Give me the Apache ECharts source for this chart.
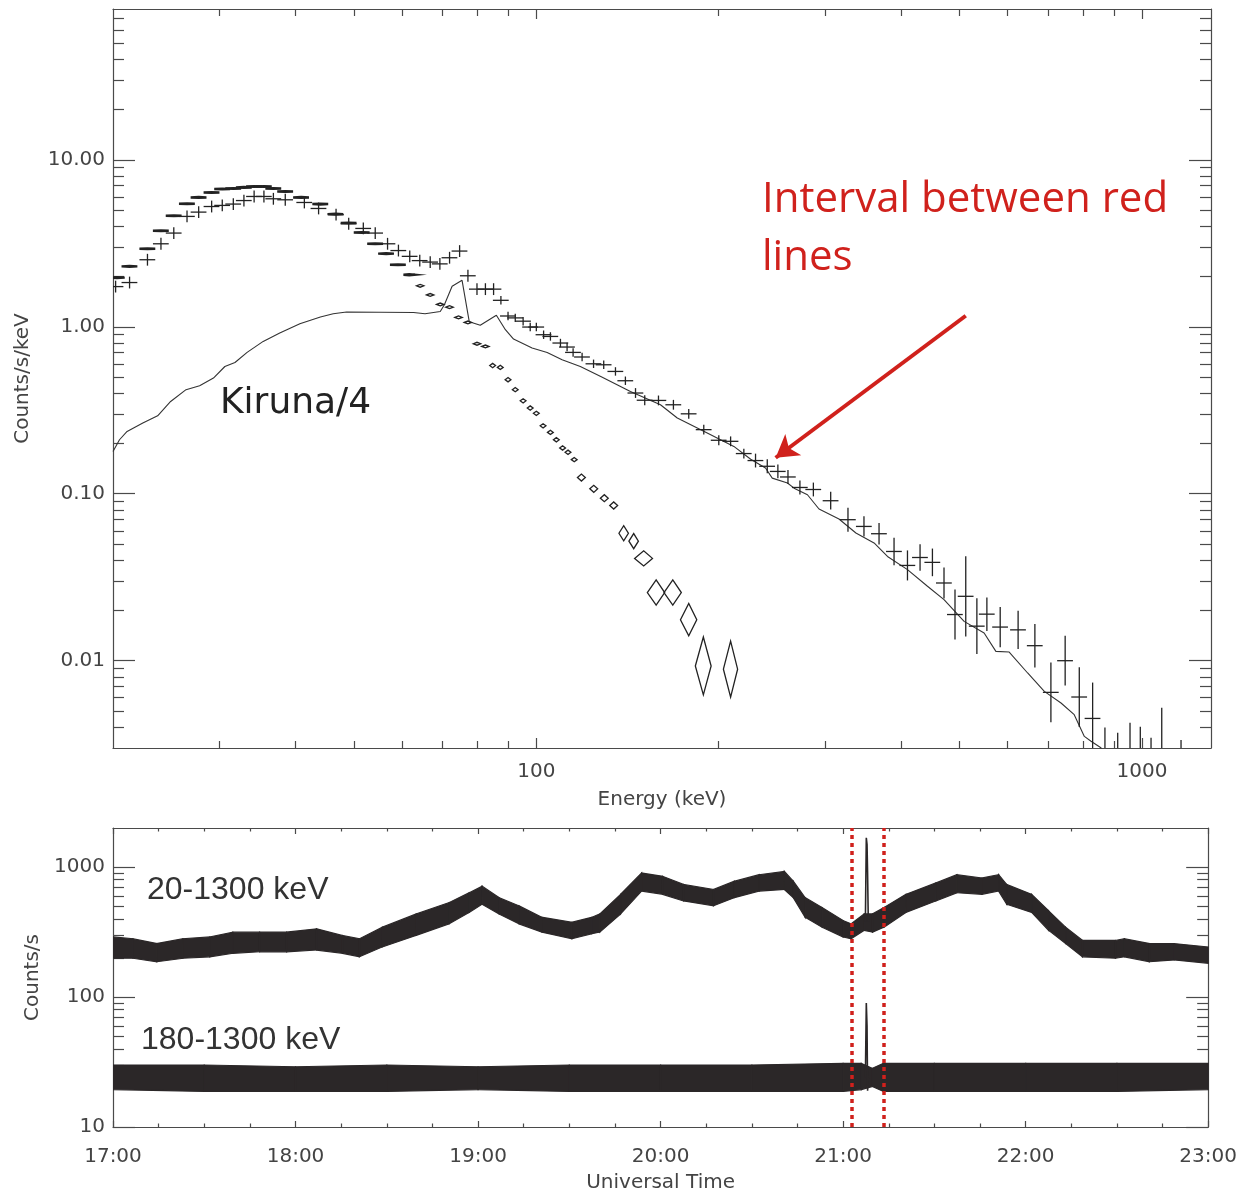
<!DOCTYPE html>
<html>
<head>
<meta charset="utf-8">
<title>Spectrum and count rate</title>
<script src="https://cdn.jsdelivr.net/npm/echarts@6/dist/echarts.min.js"></script>
<style>
  html, body { margin: 0; padding: 0; background: #fff; }
  #main { width: 1240px; height: 1194px; }
</style>
</head>
<body>
<div id="main"></div>
<script>
//************** Data: energy spectrum (top panel) *****************/

// crosses with error bars (energy keV, counts/s/keV, fractional error)
var crossE = [20.2, 21.3, 22.8, 24.0, 25.2, 26.5, 27.7, 29.1, 30.3, 31.6, 32.9, 34.2, 35.5, 36.8, 38.5, 41.4, 43.7, 46.7, 49.0, 51.8,
  54.2, 56.8, 59.2, 61.8, 64.2, 66.8, 69.3, 71.9, 74.7, 77.1, 79.8, 82.4, 85.0, 87.4, 89.8, 92.3, 95.1, 97.7, 100, 102.8,
  105.5, 109.6, 112.4, 115.0, 119.0, 124.3, 129.2, 135.1, 140.3, 145.8, 151.0, 159.1, 168.4, 178.5, 189.0, 200.1, 209.3, 220.1, 230.1, 240.6,
  250.5, 260.3, 272.4, 286.7, 306.2, 327.0, 347.5, 368.0, 389.6, 410.0, 430.1, 450.8, 471.1, 491.2, 511.7, 533.8, 554.5, 583.3, 624.4, 665.5,
  707.3, 746.7, 787.9, 828.9, 868.6, 911.8, 955.5, 993.6, 1035, 1078, 1160];
var crossV = [1.74, 1.84, 2.52, 3.14, 3.64, 4.58, 4.86, 5.25, 5.33, 5.43, 5.70, 6.03, 6.03, 5.84, 5.76, 5.55, 5.11, 4.69, 4.14, 3.88,
  3.64, 3.14, 2.86, 2.64, 2.49, 2.44, 2.38, 2.59, 2.84, 2.02, 1.68, 1.68, 1.68, 1.44, 1.16, 1.13, 1.08, 0.996, 0.996, 0.896,
  0.875, 0.799, 0.756, 0.702, 0.659, 0.600, 0.592, 0.540, 0.475, 0.401, 0.363, 0.362, 0.341, 0.301, 0.242, 0.209, 0.206, 0.174, 0.158, 0.146,
  0.136, 0.126, 0.109, 0.106, 0.0908, 0.0699, 0.0637, 0.0576, 0.0451, 0.0372, 0.0415, 0.0388, 0.0292, 0.0189, 0.0243, 0.0161, 0.0190, 0.0159, 0.0153, 0.0123,
  0.00646, 0.0100, 0.00606, 0.00451, 0.0025, 0.0025, 0.0025, 0.0025, 0.0025, 0.0025, 0.0025];
var crossErr = [0.085, 0.085, 0.085, 0.085, 0.085, 0.085, 0.085, 0.085, 0.085, 0.085, 0.085, 0.085, 0.085, 0.085, 0.085, 0.085, 0.085, 0.085, 0.085, 0.085,
  0.085, 0.085, 0.085, 0.085, 0.085, 0.085, 0.085, 0.085, 0.085, 0.085, 0.085, 0.085, 0.085, 0.06, 0.06, 0.06, 0.06, 0.06, 0.06, 0.06,
  0.06, 0.06, 0.06, 0.06, 0.06, 0.06, 0.06, 0.06, 0.06, 0.07, 0.07, 0.07, 0.07, 0.07, 0.07, 0.07, 0.07, 0.07, 0.1, 0.1,
  0.1, 0.1, 0.1, 0.1, 0.13, 0.18, 0.15, 0.16, 0.21, 0.23, 0.2, 0.21, 0.24, 0.41, 0.74, 0.47, 0.26, 0.32, 0.30, 0.35,
  0.51, 0.41, 0.51, 0.64, 0.59, 0.48, 0.70, 0.61, 0.38, 1.09, 0.34];
var crossBinFrac = 0.03;

// diamonds (energy, value, half width in energy, half height in value, both fractional)
var diaE = [20.3, 21.3, 22.8, 24.0, 25.2, 26.5, 27.7, 29.1, 30.3, 31.6, 32.9, 34.2, 35.5, 36.8, 38.5, 40.9, 44.0, 46.6, 49.0, 51.5,
  54.2, 56.5, 59.1, 61.7, 64.3, 66.8, 69.4, 71.9, 74.4, 77.1, 79.8, 82.4, 84.7, 87.2, 89.8, 92.3, 95.1, 97.7, 100, 102.6,
  105.5, 107.9, 110.5, 112.8, 115.5, 118.7, 124.4, 129.5, 134.2, 139.4, 144.8, 150.4, 157.7, 168.0, 178.5, 188.7, 209.3];
var diaV = [1.97, 2.30, 2.93, 3.76, 4.62, 5.45, 5.95, 6.37, 6.68, 6.73, 6.83, 6.92, 6.92, 6.73, 6.46, 5.95, 5.43, 4.73, 4.18, 3.67,
  3.14, 2.74, 2.35, 2.05, 1.76, 1.55, 1.36, 1.31, 1.137, 1.061, 0.791, 0.762, 0.586, 0.571, 0.482, 0.42, 0.36, 0.326, 0.303, 0.255,
  0.233, 0.2105, 0.188, 0.177, 0.160, 0.125, 0.107, 0.094, 0.085, 0.058, 0.052, 0.041, 0.0256, 0.0256, 0.0176, 0.0093, 0.0089];
var diaDE = [0.03, 0.03, 0.03, 0.03, 0.03, 0.03, 0.03, 0.03, 0.03, 0.03, 0.03, 0.03, 0.03, 0.03, 0.03, 0.03, 0.03, 0.03, 0.03, 0.03,
  0.03, 0.03, 0.03, 0.022, 0.014, 0.014, 0.014, 0.014, 0.014, 0.014, 0.014, 0.014, 0.011, 0.011, 0.011, 0.011, 0.011, 0.011, 0.011, 0.011,
  0.011, 0.011, 0.011, 0.011, 0.011, 0.015, 0.015, 0.015, 0.015, 0.018, 0.018, 0.034, 0.033, 0.033, 0.031, 0.03, 0.027];
var diaDV = [0.005, 0.005, 0.005, 0.005, 0.005, 0.005, 0.005, 0.005, 0.005, 0.005, 0.005, 0.005, 0.005, 0.005, 0.005, 0.005, 0.005, 0.005, 0.005, 0.005,
  0.005, 0.005, 0.005, 0.008, 0.02, 0.02, 0.02, 0.02, 0.02, 0.02, 0.02, 0.02, 0.03, 0.03, 0.03, 0.03, 0.03, 0.03, 0.03, 0.03,
  0.03, 0.03, 0.03, 0.03, 0.03, 0.05, 0.05, 0.05, 0.05, 0.11, 0.11, 0.11, 0.19, 0.19, 0.25, 0.49, 0.47];

// Kiruna/4 line
var kirE = [20.0, 20.5, 21.1, 22.4, 23.7, 24.9, 26.4, 27.8, 29.3, 30.6, 31.8, 33.3, 35.4, 37.7, 40.7, 44.0, 46.2, 48.6, 62.7, 65.5,
  69.4, 70.5, 72.6, 75.4, 77.5, 80.8, 85.9, 88.9, 91.7, 98.4, 104.2, 110.3, 118.2, 128.0, 143.0, 160.3, 170.9, 191.5, 211.9, 225.9,
  239.0, 245.2, 259.8, 266.4, 280.3, 292.9, 316.0, 337.0, 361.1, 380.0, 410.0, 442.4, 471.1, 508.5, 548.7, 573.8, 603.6, 647.4, 689.8, 735.0,
  772.9, 803.2, 823.9, 855.4, 880];
var kirV = [0.179, 0.2105, 0.236, 0.265, 0.293, 0.357, 0.42, 0.443, 0.493, 0.578, 0.611, 0.702, 0.817, 0.917, 1.042, 1.143, 1.196, 1.225, 1.218, 1.196,
  1.235, 1.354, 1.748, 1.898, 1.071, 1.021, 1.172, 0.960, 0.844, 0.746, 0.702, 0.634, 0.578, 0.502, 0.410, 0.341, 0.284, 0.231, 0.192, 0.161,
  0.1425, 0.124, 0.116, 0.108, 0.0986, 0.081, 0.0706, 0.0582, 0.0507, 0.0421, 0.0351, 0.0279, 0.0232, 0.0172, 0.01465, 0.01137, 0.01127, 0.00844, 0.00655, 0.00558,
  0.00475, 0.00352, 0.00329, 0.00301, 0.0026];

// arrow end points (energy, value)
var arrowFrom = [511.7, 1.164];
var arrowTo = [248.4, 0.1642];

// axis ticks
var energyMajor = [100, 1000];
var energyMinor = [30, 40, 50, 60, 70, 80, 90, 200, 300, 400, 500, 600, 700, 800, 900];
var specMajor = [0.01, 0.1, 1, 10];
var specMinor = [0.004, 0.005, 0.006, 0.007, 0.008, 0.009, 0.02, 0.03, 0.04, 0.05, 0.06, 0.07, 0.08, 0.09,
  0.2, 0.3, 0.4, 0.5, 0.6, 0.7, 0.8, 0.9, 2, 3, 4, 5, 6, 7, 8, 9, 20, 30, 40, 50, 60, 70];

//************** Data: count rate (bottom panel) *****************/

// 20-1300 keV noisy band, lower / upper envelope
var utHours = [17.0, 17.109, 17.24, 17.383, 17.53, 17.656, 17.803, 17.951, 18.115, 18.257, 18.35, 18.475, 18.661, 18.842, 18.951, 19.022, 19.115, 19.224,
  19.35, 19.514, 19.623, 19.667, 19.781, 19.896, 20.011, 20.126, 20.29, 20.404, 20.541, 20.678, 20.727, 20.792, 20.885, 21.0, 21.044, 21.115,
  21.161, 21.224, 21.344, 21.508, 21.623, 21.76, 21.852, 21.896, 22.033, 22.126, 22.219, 22.311, 22.492, 22.541, 22.678, 22.814, 23.0];
var rateLo = [199, 199, 187, 199, 204, 217, 223, 223, 230, 217, 204, 243, 298, 366, 448, 518, 436, 366,
  316, 281, 307, 316, 436, 654, 617, 549, 504, 582, 654, 673, 582, 411, 345, 290, 281, 326,
  316, 345, 448, 549, 635, 617, 654, 518, 448, 326, 258, 204, 199, 204, 187, 193, 182];
var rateHi = [290, 281, 258, 281, 290, 316, 316, 316, 335, 298, 281, 345, 436, 534, 635, 714, 582, 504,
  411, 377, 411, 436, 617, 900, 850, 735, 673, 779, 875, 927, 779, 582, 489, 388, 366, 436,
  436, 489, 617, 756, 875, 826, 875, 735, 617, 461, 345, 273, 273, 281, 258, 258, 243];

// 180-1300 keV band
var hardHours = [17.0, 17.5, 18.0, 18.5, 19.0, 19.5, 20.0, 20.5, 21.0, 21.1, 21.16, 21.22, 21.5, 22.0, 22.5, 23.0];
var hardLo = [19.4, 18.8, 18.8, 18.8, 19.4, 18.8, 18.8, 18.8, 18.8, 19.4, 20.5, 18.8, 18.8, 18.8, 18.8, 19.4];
var hardHi = [30.0, 30.0, 29.1, 30.0, 29.1, 30.0, 30.0, 30.0, 30.9, 30.9, 28.3, 30.9, 30.9, 30.9, 30.9, 30.9];

// spike near 21:08
var spikeHours = [21.122, 21.127, 21.131, 21.134, 21.138];
var spikeSoft = [380, 1680, 1500, 900, 380];
var spikeHard = [24, 90, 60, 19, 24];

// red interval lines
var redLineTimes = [21.05, 21.222];

var timeMinor = 4;
var countMajor = [10, 100, 1000];
var countMinor = [20, 30, 40, 50, 60, 70, 80, 90, 200, 300, 400, 500, 600, 700, 800, 900];

///*********** Chart ***************///

var AXIS = '#4a4a4a';
var INK = '#222222';
var BAND = '#2b2728';
var RED = '#d0211c';
var labelFont = { fontFamily: 'DejaVu Sans', fontSize: 20, color: '#444' };

function logPair(grid, pos, min, max, major, minor, majLen, minLen, label) {
  var a = {
    type: 'log', gridIndex: grid, position: pos, min: min, max: max,
    splitLine: { show: false },
    axisLine: { show: true, onZero: false, lineStyle: { color: AXIS, width: 1.2 } },
    axisTick: { show: true, inside: true, length: majLen, customValues: major, lineStyle: { color: AXIS, width: 1.2 } },
    axisLabel: label ? Object.assign({ show: true, customValues: major }, label) : { show: false }
  };
  var b = {
    type: 'log', gridIndex: grid, position: pos, min: min, max: max,
    splitLine: { show: false },
    axisLine: { show: false },
    axisTick: { show: true, inside: true, length: minLen, customValues: minor, lineStyle: { color: AXIS, width: 1.2 } },
    axisLabel: { show: false }
  };
  return [a, b];
}

function timeAxis(pos, label) {
  return {
    type: 'value', gridIndex: 1, position: pos, min: 17, max: 23, interval: 1,
    splitLine: { show: false },
    axisLine: { show: true, onZero: false, lineStyle: { color: AXIS, width: 1.2 } },
    axisTick: { show: true, inside: true, length: 6, lineStyle: { color: AXIS, width: 1.2 } },
    minorTick: { show: true, splitNumber: timeMinor, length: 3.5, lineStyle: { color: AXIS, width: 1.2 } },
    axisLabel: label ? label : { show: false }
  };
}

var xTopBottom = logPair(0, 'bottom', 20, 1300, energyMajor, energyMinor, 10, 7,
  Object.assign({ margin: 14, formatter: function (v) { return String(Math.round(v)); } }, labelFont));
xTopBottom[0].name = 'Energy (keV)';
xTopBottom[0].nameLocation = 'middle';
xTopBottom[0].nameGap = 42;
xTopBottom[0].nameTextStyle = Object.assign({}, labelFont);
var xTopTop = logPair(0, 'top', 20, 1300, energyMajor, energyMinor, 10, 7, null);

var yTopLeft = logPair(0, 'left', 0.003, 80, specMajor, specMinor, 22, 11,
  Object.assign({ margin: 8, formatter: function (v) { return Number(v).toFixed(2); } }, labelFont));
yTopLeft[0].name = 'Counts/s/keV';
yTopLeft[0].nameLocation = 'middle';
yTopLeft[0].nameGap = 80;
yTopLeft[0].nameTextStyle = Object.assign({}, labelFont);
var yTopRight = logPair(0, 'right', 0.003, 80, specMajor, specMinor, 22, 11, null);

var xBottom = timeAxis('bottom', Object.assign({ margin: 20, formatter: function (v) { return Math.round(v) + ':00'; } }, labelFont));
xBottom.name = 'Universal Time';
xBottom.nameLocation = 'middle';
xBottom.nameGap = 46;
xBottom.nameTextStyle = Object.assign({}, labelFont);
var xBottomTop = timeAxis('top', null);

var yBotLeft = logPair(1, 'left', 10, 2000, countMajor, countMinor, 22, 11,
  Object.assign({ margin: 8, formatter: function (v) { return String(Math.round(v)); } }, labelFont));
yBotLeft[0].name = 'Counts/s';
yBotLeft[0].nameLocation = 'middle';
yBotLeft[0].nameGap = 69;
yBotLeft[0].nameTextStyle = Object.assign({}, labelFont);
var yBotRight = logPair(1, 'right', 10, 2000, countMajor, countMinor, 22, 11, null);

function clipRect(params) {
  var cs = params.coordSys;
  return { type: 'rect', shape: { x: cs.x, y: cs.y, width: cs.width, height: cs.height } };
}

function renderCross(params, api) {
  var e = api.value(0), v = api.value(1), err = api.value(2);
  var l = api.coord([e * (1 - crossBinFrac), v]);
  var r = api.coord([e * (1 + crossBinFrac), v]);
  var t = api.coord([e, v * (1 + err)]);
  var b = api.coord([e, v / (1 + err)]);
  var st = { stroke: INK, lineWidth: 1.3 };
  return {
    type: 'group',
    clipPath: clipRect(params),
    children: [
      { type: 'line', shape: { x1: l[0], y1: l[1], x2: r[0], y2: r[1] }, style: st },
      { type: 'line', shape: { x1: t[0], y1: t[1], x2: b[0], y2: b[1] }, style: st }
    ]
  };
}

function renderDiamond(params, api) {
  var e = api.value(0), v = api.value(1), de = api.value(2), dv = api.value(3);
  var pts = [
    api.coord([e * (1 - de), v]),
    api.coord([e, v * (1 + dv)]),
    api.coord([e * (1 + de), v]),
    api.coord([e, v / (1 + dv)])
  ];
  // flat diamonds at low energy read as solid dashes
  var flat = dv < 0.01;
  return {
    type: 'polygon',
    shape: { points: pts },
    style: { fill: flat ? INK : 'none', stroke: INK, lineWidth: flat ? 2.4 : 1.3, lineJoin: 'miter' }
  };
}

// one quad between two neighbouring envelope samples
function renderBand(params, api) {
  var p = [
    api.coord([api.value(0), api.value(1)]),
    api.coord([api.value(3), api.value(4)]),
    api.coord([api.value(3), api.value(5)]),
    api.coord([api.value(0), api.value(2)])
  ];
  return {
    type: 'polygon',
    shape: { points: p },
    style: { fill: BAND, stroke: BAND, lineWidth: 1.2 }
  };
}

function bandSegments(hours, lo, hi) {
  var out = [];
  for (var i = 0; i < hours.length - 1; i++) {
    out.push([hours[i], lo[i], hi[i], hours[i + 1], lo[i + 1], hi[i + 1]]);
  }
  return out;
}

var option = {
  animation: false,
  backgroundColor: '#ffffff',
  grid: [
    { left: 113, top: 9, width: 1098, height: 739 },
    { left: 113, top: 828, width: 1098, height: 305 }
  ],
  xAxis: [xTopBottom[0], xTopBottom[1], xTopTop[0], xTopTop[1], xBottom, xBottomTop],
  yAxis: [yTopLeft[0], yTopLeft[1], yTopRight[0], yTopRight[1], yBotLeft[0], yBotLeft[1], yBotRight[0], yBotRight[1]],
  graphic: [
    { type: 'text', x: 220, y: 404, style: { text: 'Kiruna/4', font: '36px "DejaVu Sans"', fill: INK, textVerticalAlign: 'middle', verticalAlign: 'middle' } },
    { type: 'text', x: 762, y: 200, style: { text: 'Interval between red', font: '42px "Open Sans"', fill: RED, textVerticalAlign: 'middle', verticalAlign: 'middle' } },
    { type: 'text', x: 762, y: 258, style: { text: 'lines', font: '42px "Open Sans"', fill: RED, textVerticalAlign: 'middle', verticalAlign: 'middle' } },
    { type: 'text', x: 147, y: 890, style: { text: '20-1300 keV', font: '32px "Liberation Sans"', fill: '#333', textVerticalAlign: 'middle', verticalAlign: 'middle' } },
    { type: 'text', x: 141, y: 1040, style: { text: '180-1300 keV', font: '32px "Liberation Sans"', fill: '#333', textVerticalAlign: 'middle', verticalAlign: 'middle' } }
  ],
  series: [
    {
      name: 'Kiruna/4', type: 'line', xAxisIndex: 0, yAxisIndex: 0,
      data: kirE.map(function (e, i) { return [e, kirV[i]]; }),
      symbol: 'none', clip: true,
      lineStyle: { color: '#333', width: 1.1 },
      z: 2,
      markLine: {
        silent: true, symbol: ['none', 'arrow'], symbolSize: [20, 22],
        label: { show: false },
        lineStyle: { color: RED, width: 4, type: 'solid' },
        data: [[{ coord: arrowFrom }, { coord: arrowTo }]]
      }
    },
    {
      name: 'crosses', type: 'custom', xAxisIndex: 0, yAxisIndex: 0, clip: true,
      encode: { x: 0, y: 1 },
      data: crossE.map(function (e, i) { return [e, crossV[i], crossErr[i]]; }),
      renderItem: renderCross, z: 3
    },
    {
      name: 'diamonds', type: 'custom', xAxisIndex: 0, yAxisIndex: 0, clip: true,
      encode: { x: 0, y: 1 },
      data: diaE.map(function (e, i) { return [e, diaV[i], diaDE[i], diaDV[i]]; }),
      renderItem: renderDiamond, z: 3
    },
    {
      name: '20-1300 keV', type: 'custom', xAxisIndex: 4, yAxisIndex: 4, clip: true,
      encode: { x: [0, 3], y: [1, 2] },
      data: bandSegments(utHours, rateLo, rateHi),
      renderItem: renderBand, z: 2
    },
    {
      name: '180-1300 keV', type: 'custom', xAxisIndex: 4, yAxisIndex: 4, clip: true,
      encode: { x: [0, 3], y: [1, 2] },
      data: bandSegments(hardHours, hardLo, hardHi),
      renderItem: renderBand, z: 2
    },
    {
      name: 'spike soft', type: 'line', xAxisIndex: 4, yAxisIndex: 4, z: 3,
      data: spikeHours.map(function (h, i) { return [h, spikeSoft[i]]; }),
      symbol: 'none', lineStyle: { color: BAND, width: 1.6 }
    },
    {
      name: 'spike hard', type: 'line', xAxisIndex: 4, yAxisIndex: 4, z: 5,
      data: spikeHours.map(function (h, i) { return [h, spikeHard[i]]; }),
      symbol: 'none', lineStyle: { color: BAND, width: 1.6 },
      markLine: {
        silent: true, symbol: ['none', 'none'],
        label: { show: false },
        lineStyle: { color: RED, width: 3.5, type: [4, 4] },
        data: redLineTimes.map(function (t) { return { xAxis: t }; })
      }
    }
  ]
};

var myChart = echarts.init(document.getElementById('main'));
myChart.setOption(option);
</script>
</body>
</html>
